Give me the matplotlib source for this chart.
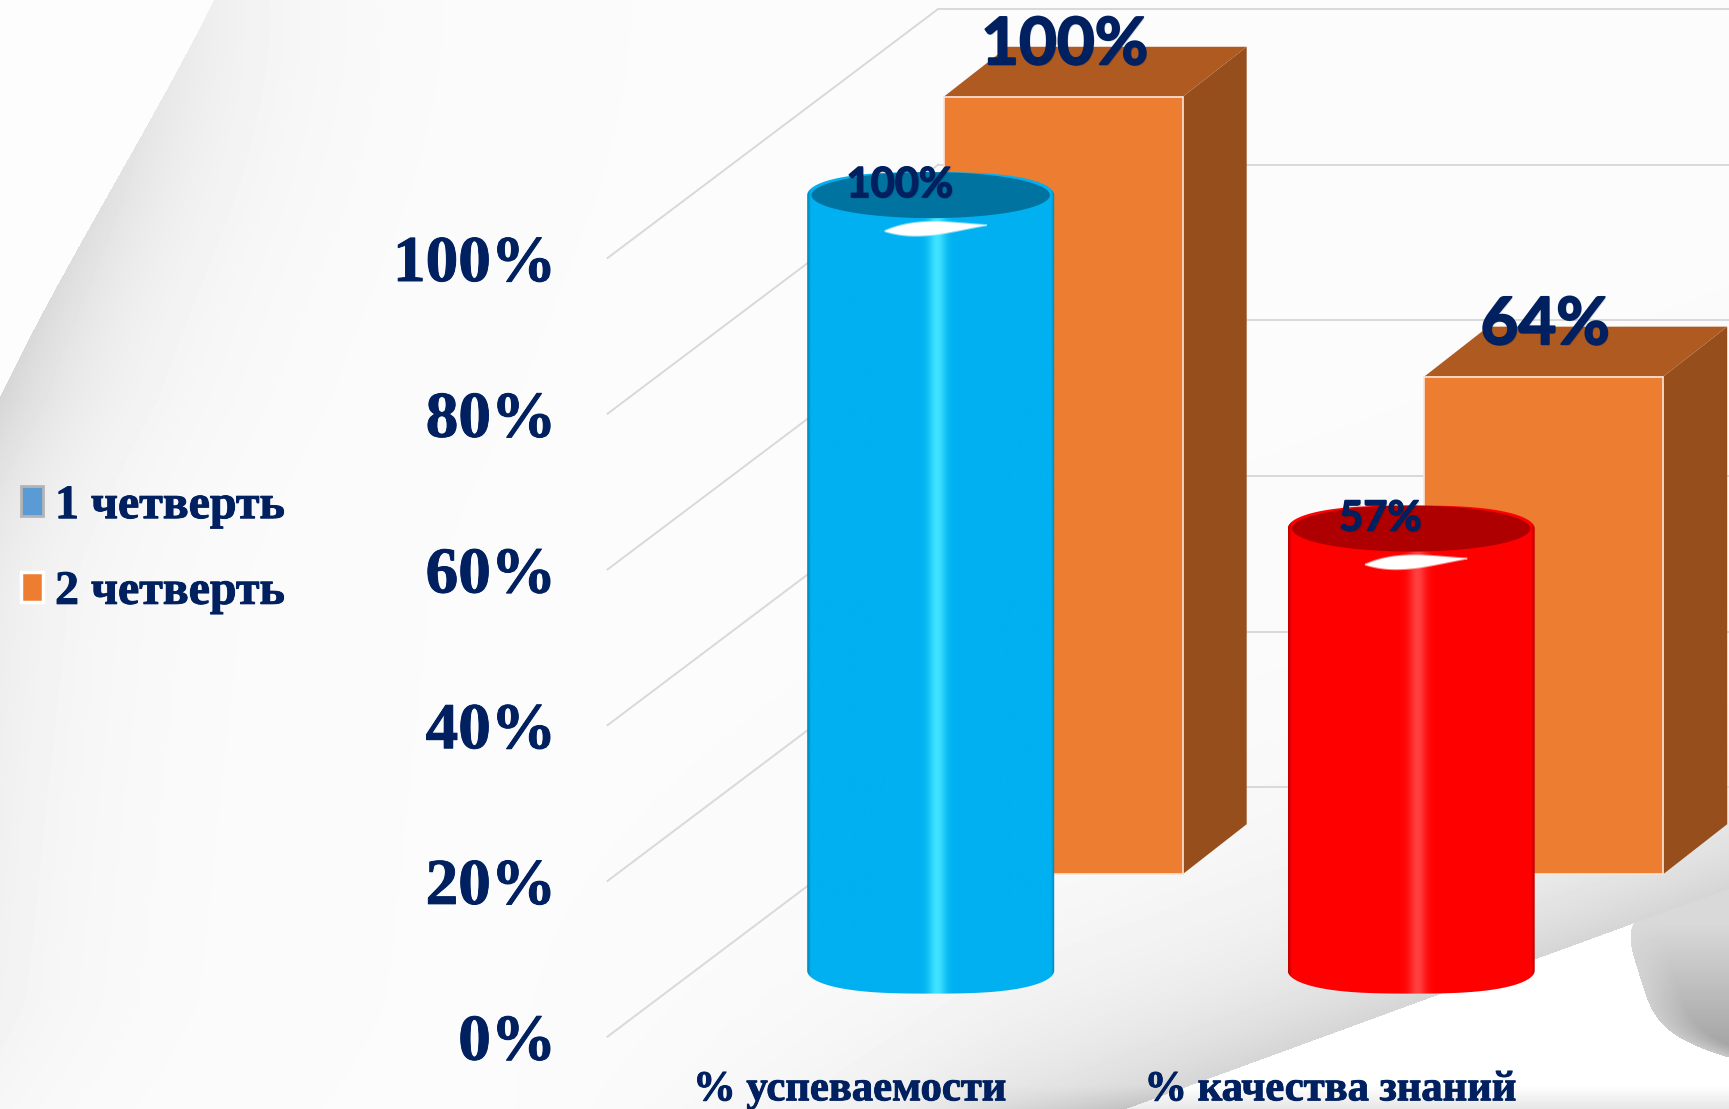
import numpy as np
import matplotlib
matplotlib.use("Agg")
import matplotlib.pyplot as plt
from matplotlib.patches import Polygon, Patch
import matplotlib.patheffects as pe

# ---------- data ----------
categories = ["% успеваемости", "% качества знаний"]
series_names = ["1 четверть", "2 четверть"]
q1_values = [100, 57]
q2_values = [100, 64]
y_ticks = [0, 20, 40, 60, 80, 100]
y_tick_labels = ["0%", "20%", "40%", "60%", "80%", "100%"]

W, H = 1729, 1109
NAVY = "#002060"
SERIF = "Liberation Serif"

fig = plt.figure(figsize=(W / 100, H / 100), dpi=100)

# ---------- background paper ----------
yy, xx = np.mgrid[0:H, 0:W].astype(float)
bg = np.full((H, W), 0.985)
# left flap shadow
bcoef = np.polyfit([0, 75, 150, 225, 300, 400, 500], [213, 175, 133, 90, 47, 0, -45], 3)
bx = np.polyval(bcoef, np.clip(yy, 0, 600))
d = xx - bx
strength = np.interp(yy, [0, 200, 400, 800, 1000, 1109], [0.05, 0.11, 0.15, 0.10, 0.08, 0.04])
shadow = strength * np.exp(-np.clip(d, 0, None) / 95.0)
bg = np.where(d > 0, bg - shadow, 0.99)
# bottom right page curl
line_y = 1063 + (xx - 1250) * (923 - 1063) / (1633 - 1250)
above = yy < line_y
floor = 0.15 * np.exp(-np.clip(line_y - yy, 0, None) / 110.0)
bg = np.where(above, bg - floor * np.clip((xx - 500) / 500, 0, 1), 1.0)
# fold of the curl
fcoef = np.polyfit([923, 950, 990, 1027, 1047, 1057], [1633, 1632, 1643, 1667, 1697, 1729], 4)
fold_x = np.polyval(fcoef, np.clip(yy, 923, 1060))
fold = (~above) & (xx > fold_x) & (yy < 1060)
fold_val = 0.85 - 0.20 * np.clip((yy - 923) / 120.0, 0, 1) * np.clip((xx - fold_x) / 50.0 + 0.3, 0, 1)
bg = np.where(fold, fold_val, bg)
# bottom strip shadow
bg -= 0.10 * np.clip((yy - 1085) / 24.0, 0, 1) * np.clip((xx - 900) / 300.0, 0, 1)

bg_ax = fig.add_axes([0, 0, 1, 1], zorder=0)
bg_ax.imshow(np.clip(bg, 0, 1), cmap="gray", vmin=0, vmax=1, aspect="auto", interpolation="bilinear")
bg_ax.axis("off")

# ---------- chart axes ----------
py0, py100 = 1036.6, 258.0      # pixel rows of value 0 and 100 on the front edge
left_px = 607.6
cat_px = 480.5                  # pixels per category
cat0_px = 930.7
ax = fig.add_axes([left_px / W, 1 - py0 / H, 1 - left_px / W, (py0 - py100) / H], zorder=1)
ax.patch.set_alpha(0)
xl = (left_px - cat0_px) / cat_px
xr = (W - cat0_px) / cat_px
val_px = (py0 - py100) / 100.0

def px_x(p):
    return p / cat_px

def px_y(p):
    return p / val_px

# walls
WALL = "#D9D9D9"
wall_dx, wall_dy = px_x(330.8), px_y(249.2)
for v in y_ticks:
    ax.plot([xl, xl + wall_dx], [v, v + wall_dy], color=WALL, lw=1.4, clip_on=False, zorder=1)
    ax.plot([xl + wall_dx, xr], [v + wall_dy] * 2, color=WALL, lw=1.4, clip_on=False, zorder=1)

SCALE = 0.996
BOX_SCALE = 0.9985

def draw_box(x, v, z):
    off_x, base = px_x(132.5), px_y(162.4)
    dx, dy = px_x(64), px_y(50)
    hw = px_x(239) / 2
    cx = x + off_x
    top = base + v * BOX_SCALE
    side = Polygon([(cx + hw, base), (cx + hw + dx, base + dy), (cx + hw + dx, top + dy), (cx + hw, top)],
                   fc="#964F1C", ec="none", clip_on=False, zorder=z)
    cap = Polygon([(cx - hw, top), (cx + hw, top), (cx + hw + dx, top + dy), (cx - hw + dx, top + dy)],
                  fc="#AE5A21", ec="none", clip_on=False, zorder=z)
    ax.add_patch(side)
    ax.add_patch(cap)
    ax.bar(cx, v * BOX_SCALE, width=2 * hw, bottom=base, color="#ED7D31", edgecolor="#FBE5D6",
           linewidth=1.2, clip_on=False, zorder=z + 0.1)
    return cx, top

def draw_cyl(x, v, z, base_c, mid_c, cap_c):
    hw = px_x(247) / 2
    base = px_y(66)
    top = base + v * SCALE
    ry = px_y(23)
    th = np.linspace(0, np.pi, 120)
    # rounded shoulders: slightly super-elliptic outline at both ends
    ex = np.sign(np.cos(th)) * np.abs(np.cos(th)) ** 0.72
    ey = np.sin(th) ** 1.0
    outline = np.r_[np.c_[x - hw * ex, base - ry * ey], np.c_[x + hw * ex, top + ry * ey]]
    body = Polygon(outline, fc="none", ec="none", clip_on=False, zorder=z)
    ax.add_patch(body)
    t = np.linspace(0, 1, 400)
    c0 = np.array(matplotlib.colors.to_rgb(base_c))
    c1 = np.array(matplotlib.colors.to_rgb(mid_c))
    edge = np.clip(np.minimum(t, 1 - t) / 0.015, 0, 1)[:, None]
    glow = np.exp(-((t - 0.525) / 0.035) ** 2)[:, None]
    rgb = c0 * (0.75 + 0.25 * edge)
    rgb = rgb * (1 - glow) + c1 * glow
    im = ax.imshow(rgb[None, :, :], extent=(x - hw, x + hw, base - ry, top + ry), aspect="auto",
                   interpolation="bilinear", zorder=z)
    im.set_clip_box(fig.bbox)
    im.set_clip_path(body)
    th2 = np.linspace(0, 2 * np.pi, 160)
    ax.add_patch(Polygon(np.c_[x + 0.965 * hw * np.cos(th2), top + ry * np.sin(th2)], fc=cap_c, ec="none",
                         clip_on=False, zorder=z + 0.1))
    # white glint under the rim
    gx = np.linspace(-1, 1, 60)
    gw = px_x(51)
    thick = (1 - gx ** 2) * (1.25 - 0.7 * gx)
    mid = top - px_y(33) + px_y(3) * gx
    glint = np.r_[np.c_[x + px_x(5) + gw * gx, mid + px_y(5) * thick],
                  np.c_[x + px_x(5) + gw * gx[::-1], mid[::-1] - px_y(5) * thick[::-1]]]
    ax.add_patch(Polygon(glint, fc="white", ec="#FFFFFF80", lw=1.5, clip_on=False, zorder=z + 0.2))
    return top, ry

heavy_fx = [pe.withStroke(linewidth=0.7, foreground=NAVY)]
big_fx = [pe.withSimplePatchShadow(offset=(1.0, -1.0), shadow_rgbFace="#000000", alpha=0.15),
          pe.withStroke(linewidth=1.4, foreground=NAVY)]
small_fx = [pe.withSimplePatchShadow(offset=(1.0, -1.0), shadow_rgbFace="#000000", alpha=0.15),
            pe.withStroke(linewidth=1.0, foreground=NAVY)]

for i, cat in enumerate(categories):
    z = 2 + i * 2
    cx, top = draw_box(i, q2_values[i], z)
    ax.annotate(f"{q2_values[i]}%", (cx, top), xytext=(1, 51 * 0.72), textcoords="offset points",
                ha="center", va="center", family="Lato", weight="bold", fontsize=47, color=NAVY,
                annotation_clip=False, zorder=9, path_effects=big_fx)
    ctop, _ = draw_cyl(i, q1_values[i], z + 0.5, "#00B0F0" if i == 0 else "#FF0000",
                       "#3FE3FF" if i == 0 else "#FF4040", "#0073A0" if i == 0 else "#AE0000")
    ax.annotate(f"{q1_values[i]}%", (i, ctop), xytext=(-31 * 0.72, 10 * 0.72), textcoords="offset points",
                ha="center", va="center", family="Lato", weight="bold", fontsize=30, color=NAVY,
                annotation_clip=False, zorder=9, path_effects=small_fx)

ax.set_xlim(xl, xr)
ax.set_ylim(0, 100)
for s in ax.spines.values():
    s.set_visible(False)
ax.set_yticks(y_ticks)
ax.set_yticklabels(y_tick_labels, family=SERIF, weight="bold", fontsize=47, color=NAVY, path_effects=heavy_fx)
ax.set_xticks(np.arange(len(categories)) - 0.168)
ax.set_xticklabels(categories, family=SERIF, weight="bold", fontsize=30.7, color=NAVY, path_effects=heavy_fx)
ax.tick_params(axis="y", length=0, pad=37)
ax.tick_params(axis="x", length=0, pad=25)

# ---------- legend ----------
handles = [Patch(facecolor="#5B9BD5", edgecolor="#B4B4B4", linewidth=2),
           Patch(facecolor="#ED7D31", edgecolor="white", linewidth=2.5)]
leg = fig.legend(handles, series_names, loc="center left", bbox_to_anchor=(21 / W, 1 - 549 / H),
                 frameon=False, prop={"family": SERIF, "weight": "bold", "size": 34.5}, labelcolor=NAVY,
                 handlelength=0.46, handleheight=0.6, handletextpad=0.25, labelspacing=0.87,
                 borderpad=0, borderaxespad=0)
for txt in leg.get_texts():
    txt.set_path_effects(heavy_fx)

fig.savefig("out.png", dpi=100)
